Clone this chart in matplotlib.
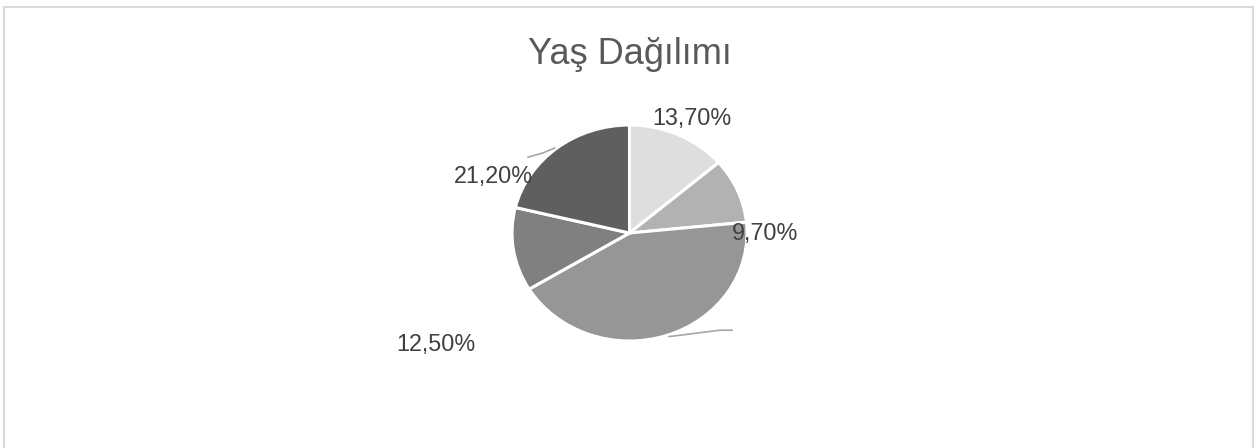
import matplotlib
matplotlib.use('Agg')
import matplotlib.pyplot as plt
from matplotlib.patches import Rectangle

plt.rcParams['font.family'] = ['Liberation Sans', 'DejaVu Sans']

# data
title = 'Yaş Dağılımı'
values = [13.7, 9.7, 42.9, 12.5, 21.2]
labels = ['13,70%', '9,70%', '', '12,50%', '21,20%']
colors = ['#dedede', '#b2b2b2', '#969696', '#808080', '#5f5f5f']

# label spots, in units of pie radius (x, y)
label_pos = [(0.53, 1.06), (1.15, 0.0), None, (-1.65, -1.03), (-1.16, 0.52)]

W, H = 1255, 448
cx, cy = 629.5, 233.0   # pie centre, px
rx, ry = 117.5, 108.0   # pie is a bit wider than tall

fig = plt.figure(figsize=(W / 100, H / 100), dpi=100)
ax = fig.add_axes([0, 0, 1, 1])

wedges, _ = ax.pie(values, colors=colors, startangle=90, counterclock=False,
                   wedgeprops=dict(edgecolor='white', linewidth=2.2))
ax.set_aspect('auto')
ax.set_xlim(-cx / rx, (W - cx) / rx)
ax.set_ylim(-(H - cy) / ry, cy / ry)
ax.axis('off')

for lab, pos in zip(labels, label_pos):
    if pos is None:
        continue
    ax.text(pos[0], pos[1], lab, ha='center', va='center',
            fontsize=16.8, color='#404040')

# leader lines (left over from moved labels)
leaders = [
    [(0.33, -0.96), (0.77, -0.90), (0.88, -0.90)],
    [(-0.87, 0.70), (-0.74, 0.74), (-0.63, 0.79)],
]
for pts in leaders:
    xs = [p[0] for p in pts]
    ys = [p[1] for p in pts]
    ax.plot(xs, ys, color='#a6a6a6', lw=1.2, solid_capstyle='butt')

ax.text(0.0, (cy - 54) / ry, title, ha='center', va='center',
        fontsize=26, color='#595959')

# chart area border
fig.patches.append(Rectangle((4 / W, -0.05), (W - 6) / W, 1.05 - 7.5 / H,
                             transform=fig.transFigure, fill=False,
                             edgecolor='#d9d9d9', lw=1.5))

fig.savefig('out.png', dpi=100, facecolor='white')
